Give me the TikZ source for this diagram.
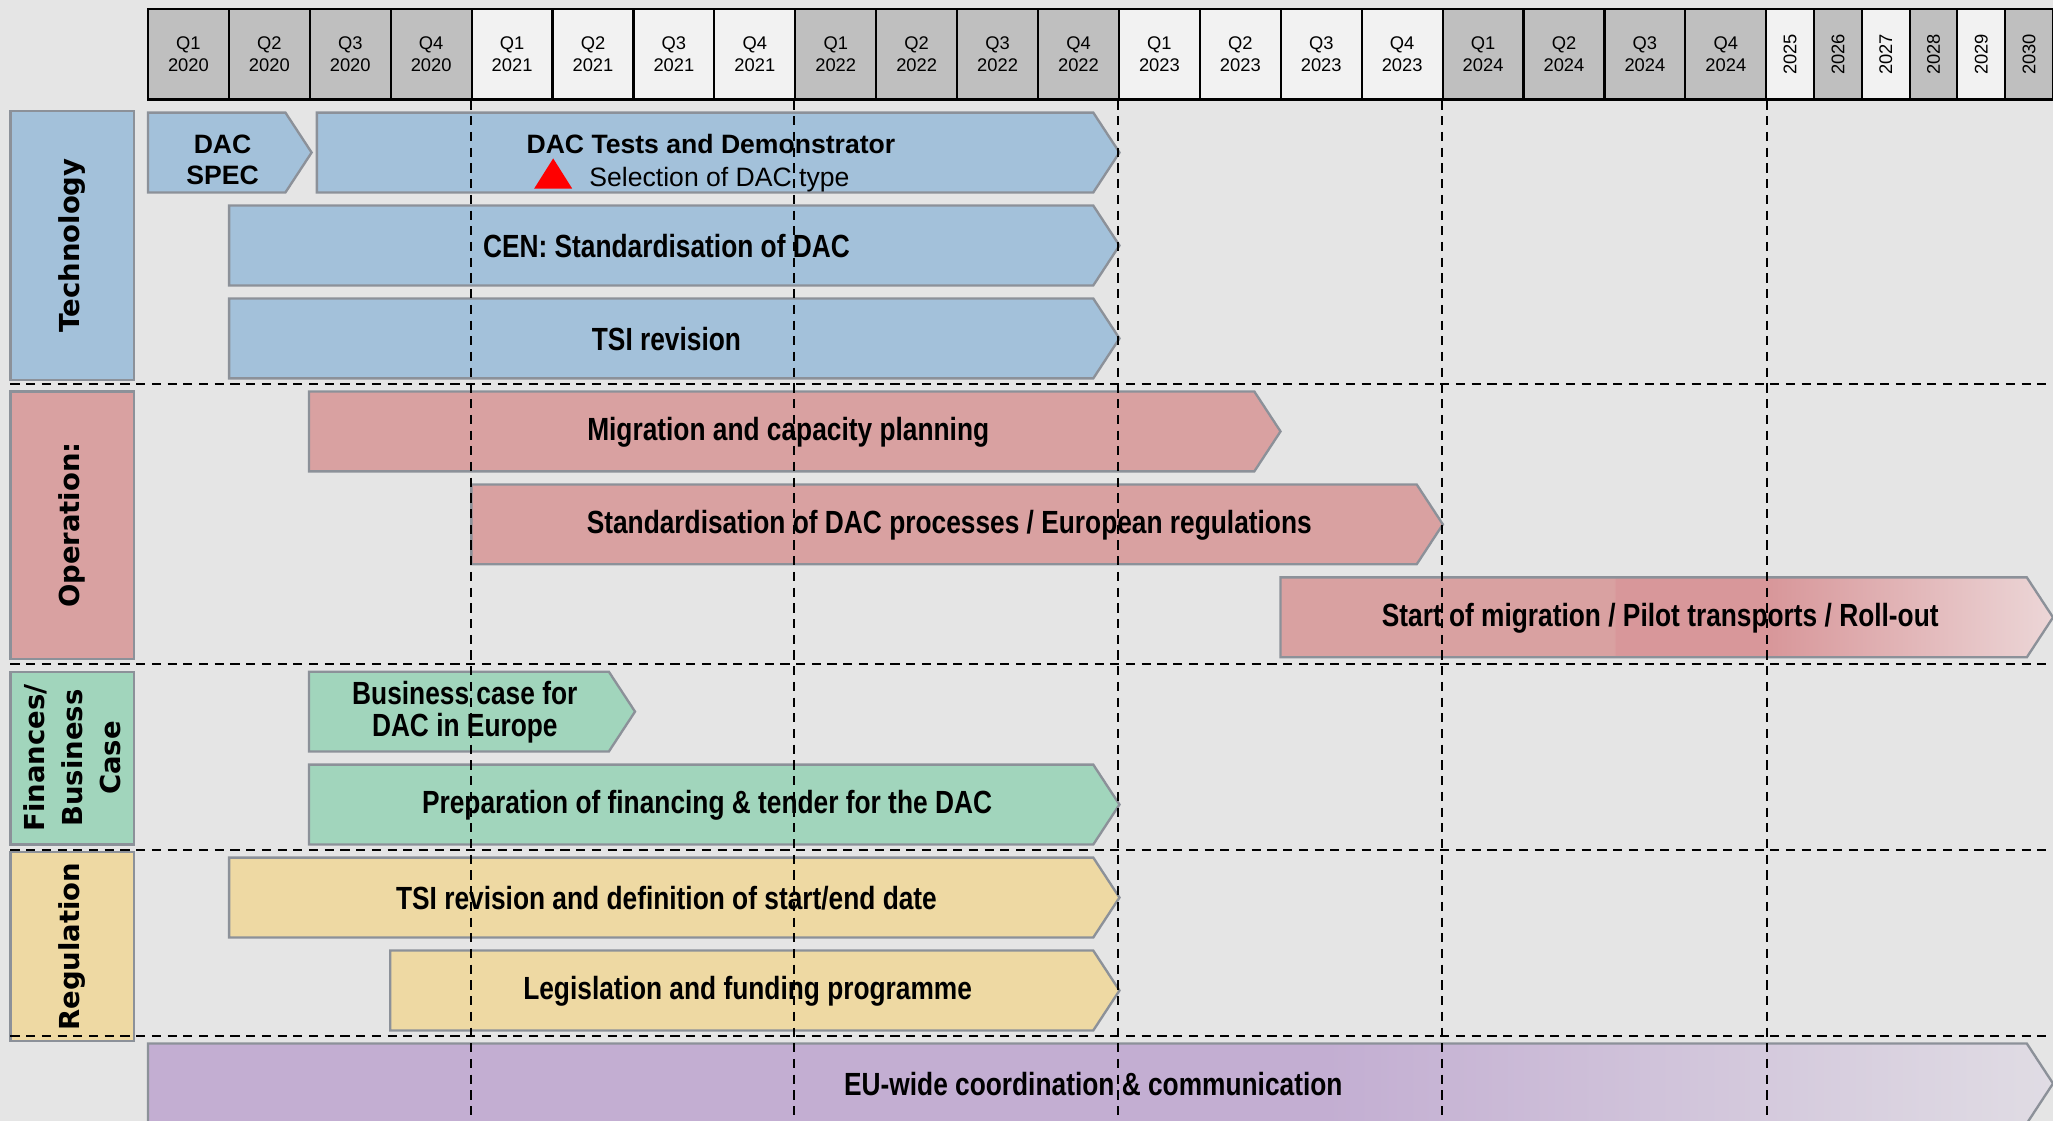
\documentclass[tikz,border=0pt]{standalone}
\usepackage{fontspec}
\setmainfont{Liberation Sans}
\newfontfamily\narrowfont[FakeStretch=0.82]{Liberation Sans}
\newfontfamily\widefont{DejaVu Sans}
\usetikzlibrary{positioning}

\definecolor{bgc}{HTML}{E5E5E5}
\definecolor{hdark}{HTML}{BFBFBF}
\definecolor{hlight}{HTML}{F2F2F2}
\definecolor{barline}{HTML}{8C9199}
\definecolor{techblue}{HTML}{A3C1DA}
\definecolor{oprose}{HTML}{D9A1A1}
\definecolor{opdeep}{HTML}{D8979A}
\definecolor{oplight}{HTML}{ECD6D7}
\definecolor{fingreen}{HTML}{A1D5BC}
\definecolor{reggold}{HTML}{EED9A3}
\definecolor{eupurple}{HTML}{C3AED2}
\definecolor{eulight}{HTML}{E0DCE4}

\pgfdeclarehorizontalshading{rollout}{100bp}{color(0bp)=(oprose); color(46.6bp)=(oprose);
  color(46.7bp)=(opdeep); color(56.7bp)=(opdeep); color(75bp)=(oplight); color(100bp)=(oplight)}
\pgfdeclarehorizontalshading{eufade}{100bp}{color(0bp)=(eupurple); color(55.9bp)=(eupurple);
  color(75bp)=(eulight); color(100bp)=(eulight)}

\tikzset{hcell/.style = {draw, line width = 1.6, fill = hdark, inner sep = 0, align = center,
    minimum width = 61.8, minimum height = 69, font = \fontsize{14}{17}\selectfont}}
\tikzset{ycell/.style = {hcell, rotate = 90, minimum width = 69, minimum height = 36.5}}
\tikzset{catbox/.style = {draw = barline, line width = 1.6, rotate = 90, inner sep = 0,
    minimum height = 94, align = center, font = \widefont\bfseries\fontsize{21}{29}\selectfont}}
\tikzset{phase/.style = {draw = barline, line width = 1.8}}
\tikzset{lbl/.style = {inner sep = 0, align = center,
    font = \narrowfont\bfseries\fontsize{24.5}{24}\selectfont}}
\tikzset{widelbl/.style = {lbl, font = \bfseries\fontsize{20.3}{24}\selectfont}}
\tikzset{gridline/.style = {line width = 1.6, dash pattern = on 7 off 5}}
\newcommand{\chev}[3]{(#1, #3) -- ({#2 - 20}, #3) -- (#2, {#3 + 30.5})
  -- ({#2 - 20}, {#3 + 61}) -- (#1, {#3 + 61}) -- cycle}

\begin{document}
\begin{tikzpicture}[x = 1pt, y = -1pt]
    \useasboundingbox (0, 0) rectangle (1568, 856);
    \fill [bgc] (0, 0) rectangle (1568, 856);

    % quarters
    \foreach \i in {0, ..., 19} {
      \pgfmathtruncatemacro{\yr}{2020 + floor(\i / 4)}
      \pgfmathtruncatemacro{\qu}{mod(\i, 4) + 1}
      \pgfmathtruncatemacro{\shd}{mod(floor(\i / 4), 2)}
      \ifnum\shd = 1 \colorlet{hc}{hlight}\else\colorlet{hc}{hdark}\fi
      \node [hcell, fill = hc] (h\i) at ({143.9 + 61.8 * \i}, 41.5) {Q\qu\\\yr};
    }
    % years
    \foreach \j in {0, ..., 5} {
      \pgfmathtruncatemacro{\yr}{2025 + \j}
      \ifodd\j \colorlet{hc}{hdark}\else\colorlet{hc}{hlight}\fi
      \node [ycell, fill = hc] (y\j) at ({1367.25 + 36.5 * \j}, 41.5) {\yr};
    }

    \node [catbox, fill = techblue, minimum width = 205] (tech) at (55, 187.5) {Technology};
    \node [catbox, fill = oprose, minimum width = 204] (oper) at (55, 401) {Operation:};
    \node [catbox, fill = fingreen, minimum width = 132] (fin) at (55, 579) {Finances/\\Business\\Case};
    \node [catbox, fill = reggold, minimum width = 144] (reg) at (55, 723) {Regulation};

    % technology
    \draw [phase, fill = techblue] \chev{113}{238}{86};
    \node [widelbl] (spec) at (170, 122) {DAC\\SPEC};
    \draw [phase, fill = techblue] \chev{242}{855}{86};
    \node [widelbl] (tests) at (543, 110) {DAC Tests and Demonstrator};
    \fill [red] (408, 144) -- (422.5, 121) -- (437, 144) -- cycle;
    \node [lbl, font = \fontsize{20.3}{24}\selectfont] (select) at (549.5, 137.5) {Selection of DAC type};
    \draw [phase, fill = techblue] \chev{175}{855}{157};
    \node [lbl] (cen) at (509, 188) {CEN: Standardisation of DAC};
    \draw [phase, fill = techblue] \chev{175}{855}{228};
    \node [lbl] (tsi) at (509, 259) {TSI revision};

    % operation
    \draw [phase, fill = oprose] \chev{236}{978}{299};
    \node [lbl] (plan) at (602, 330) {Migration and capacity planning};
    \draw [phase, fill = oprose] \chev{360}{1102}{370};
    \node [lbl] (proc) at (725, 401) {Standardisation of DAC processes / European regulations};
    \draw [phase, shade, shading = rollout] \chev{978}{1568}{441};
    \node [lbl] (roll) at (1268, 472) {Start of migration / Pilot transports / Roll-out};

    % finances
    \draw [phase, fill = fingreen] \chev{236}{485}{513};
    \node [lbl] (case) at (355, 544) {Business case for\\DAC in Europe};
    \draw [phase, fill = fingreen] \chev{236}{855}{584};
    \node [lbl] (tender) at (540, 615) {Preparation of financing \& tender for the DAC};

    % regulation
    \draw [phase, fill = reggold] \chev{175}{855}{655};
    \node [lbl] (dates) at (509, 686) {TSI revision and definition of start/end date};
    \draw [phase, fill = reggold] \chev{298}{855}{726};
    \node [lbl] (laws) at (571, 757) {Legislation and funding programme};

    \draw [phase, shade, shading = eufade] \chev{113}{1568}{797};
    \node [lbl] (eu) at (835, 828) {EU-wide coordination \& communication};

    \foreach \i in {4, 8, 12, 16}
      \draw [gridline] (h\i.south west) -- ++(0, 780);
    \draw [gridline] (h19.south east) -- ++(0, 780);
    \foreach \y in {293, 507, 649, 791}
      \draw [gridline] (8, \y) -- (1568, \y);
\end{tikzpicture}
\end{document}
